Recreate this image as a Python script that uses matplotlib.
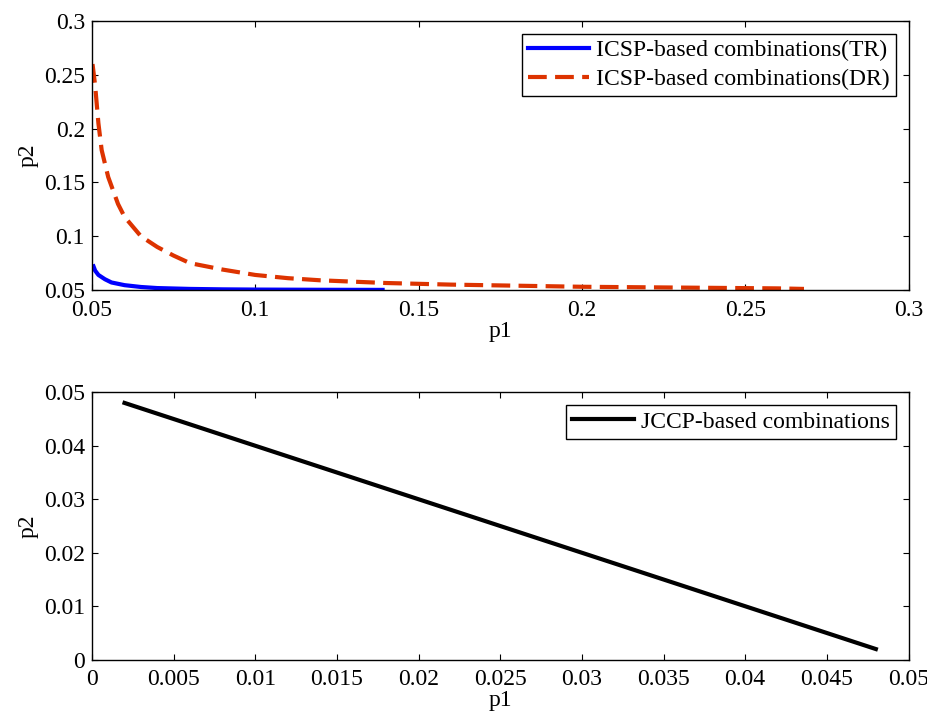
import matplotlib.pyplot as plt

plt.rcParams['font.family'] = ['Liberation Serif', 'DejaVu Serif']
plt.rcParams['font.size'] = 17

# ICSP-based combinations (TR)
tr_p1 = [0.0505, 0.051, 0.052, 0.054, 0.056, 0.06, 0.065, 0.07, 0.08, 0.09, 0.1, 0.12, 0.139]
tr_p2 = [0.072, 0.068, 0.064, 0.060, 0.057, 0.0545, 0.0528, 0.0518, 0.0510, 0.0506, 0.0504, 0.0502, 0.0501]

# ICSP-based combinations (DR)
dr_p1 = [0.0502, 0.051, 0.052, 0.053, 0.055, 0.058, 0.06, 0.065, 0.07, 0.075, 0.08, 0.09, 0.1,
         0.11, 0.12, 0.14, 0.16, 0.18, 0.2, 0.22, 0.24, 0.26, 0.268]
dr_p2 = [0.26, 0.24, 0.205, 0.18, 0.155, 0.13, 0.118, 0.1, 0.09, 0.082, 0.075, 0.069, 0.064,
         0.061, 0.059, 0.0565, 0.055, 0.054, 0.053, 0.0525, 0.052, 0.0515, 0.051]

# JCCP-based combinations
jc_p1 = [0.002, 0.048]
jc_p2 = [0.048, 0.002]

top_xticks = [0.05, 0.1, 0.15, 0.2, 0.25, 0.3]
top_xlabels = ['0.05', '0.1', '0.15', '0.2', '0.25', '0.3']
top_yticks = [0.05, 0.1, 0.15, 0.2, 0.25, 0.3]
top_ylabels = ['0.05', '0.1', '0.15', '0.2', '0.25', '0.3']
bot_xticks = [0, 0.005, 0.01, 0.015, 0.02, 0.025, 0.03, 0.035, 0.04, 0.045, 0.05]
bot_xlabels = ['0', '0.005', '0.01', '0.015', '0.02', '0.025', '0.03', '0.035', '0.04', '0.045', '0.05']
bot_yticks = [0, 0.01, 0.02, 0.03, 0.04, 0.05]
bot_ylabels = ['0', '0.01', '0.02', '0.03', '0.04', '0.05']

fig = plt.figure(figsize=(9.28, 7.25), dpi=100)
ax1 = fig.add_axes([0.099, 0.600, 0.880, 0.371])
ax2 = fig.add_axes([0.099, 0.090, 0.880, 0.369])

ax1.plot(tr_p1, tr_p2, color='#0000ff', lw=3, label='ICSP-based combinations(TR)')
ax1.plot(dr_p1, dr_p2, color='#dd3300', lw=3, ls=(0, (4.5, 2)), label='ICSP-based combinations(DR)')
ax1.set_xlim(0.05, 0.3)
ax1.set_ylim(0.05, 0.3)
ax1.set_xticks(top_xticks, top_xlabels)
ax1.set_yticks(top_yticks, top_ylabels)
ax1.set_xlabel('p1', labelpad=0)
ax1.set_ylabel('p2', labelpad=4)

ax2.plot(jc_p1, jc_p2, color='black', lw=3, label='JCCP-based combinations')
ax2.set_xlim(0, 0.05)
ax2.set_ylim(0, 0.05)
ax2.set_xticks(bot_xticks, bot_xlabels)
ax2.set_yticks(bot_yticks, bot_ylabels)
ax2.set_xlabel('p1', labelpad=0)
ax2.set_ylabel('p2', labelpad=4)

for ax in (ax1, ax2):
    ax.tick_params(direction='in', length=4, width=0.8, top=True, right=True)
    ax.tick_params(axis='x', pad=7)
    ax.tick_params(axis='y', pad=5)
    for s in ax.spines.values():
        s.set_linewidth(1.0)
    leg = ax.legend(loc='upper right', fancybox=False, edgecolor='black', framealpha=1,
                    handlelength=2.6, handletextpad=0.3, borderpad=0.25, labelspacing=0.3,
                    borderaxespad=0.55)
    leg.get_frame().set_linewidth(1.0)

fig.savefig('out.png', dpi=100)
